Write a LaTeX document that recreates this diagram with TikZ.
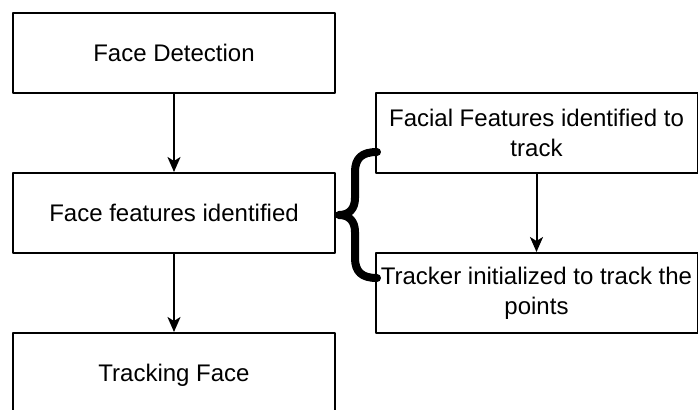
\documentclass[tikz,border=0pt]{standalone}
\usepackage{fontspec}
\setmainfont{Liberation Sans}
\usetikzlibrary{arrows.meta}

\begin{document}
\begin{tikzpicture}[line cap=round,line join=round,x=0.5pt,y=-0.5pt,
  blk/.style={draw,line width=1pt,minimum width=161pt,minimum height=40pt,inner sep=0pt,align=center,font=\fontsize{12}{15}\selectfont},
  flow/.style={-{Stealth[length=7.5pt,width=6.5pt,inset=2pt]},line width=1pt}]
\clip (0,0) rectangle (698,409);
% left column
\node[blk] (det) at (174,53) {Face Detection};
\node[blk] (feat) at (174,213) {Face features identified};
\node[blk,minimum height=42pt] (track) at (174,375) {Tracking Face};
% right column
\node[blk] (facial) at (536.5,132.5) {Facial Features identified to\\track};
\node[blk] (tracker) at (536.5,293) {Tracker initialized to track the\\points};
\draw[flow] (det) -- (feat);
\draw[flow] (feat) -- (track);
\draw[flow] (facial) -- (tracker);
% brace
\draw[line width=4pt] (377,152) .. controls (362,152) and (355,158) .. (355,172) -- (355,198)
  .. controls (355,209) and (349,215) .. (339,215)
  .. controls (349,215) and (355,221) .. (355,232) -- (355,258)
  .. controls (355,272) and (362,278) .. (377,278);
\end{tikzpicture}
\end{document}
